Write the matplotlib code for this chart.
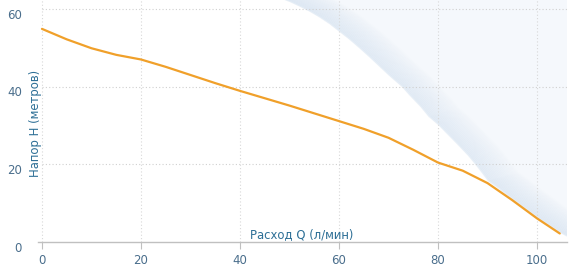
import matplotlib
matplotlib.use("Agg")
import matplotlib.pyplot as plt
import numpy as np

# Pump curve (orange)
flow_q = [0, 5, 10, 15, 20, 25, 30, 35, 40, 45, 50, 55, 60, 65, 70, 75, 80, 85, 90, 95, 100, 104.6]
head_h = [55.0, 52.3, 50.0, 48.3, 47.1, 45.2, 43.1, 41.0, 39.0, 37.1, 35.2, 33.2, 31.2, 29.2, 26.9, 23.8, 20.5, 18.4, 15.2, 10.8, 6.1, 2.2]

# Boundary of the shaded (blue) zone
zone_q = [48.0, 50, 52, 54, 56, 58, 60, 62, 64, 66, 68, 70, 72.7, 74, 76.4, 78, 80, 82, 84, 86, 87.5, 89, 90, 92, 95, 98, 100, 102, 104.6, 107]
zone_h = [63.0, 62.0, 60.8, 59.5, 58.0, 56.3, 54.3, 52.3, 50.1, 47.8, 45.4, 43.0, 40.0, 38.1, 34.9, 32.4, 30.2, 27.6, 25.0, 22.3, 20.0, 17.5, 15.8, 14.0, 11.0, 8.2, 6.3, 4.6, 2.4, 0.8]

x_ticks = [0, 20, 40, 60, 80, 100]
y_ticks = [0, 20, 40, 60]
x_label = "Расход Q (л/мин)"
y_label = "Напор Н (метров)"

W, H = 572, 267
fig = plt.figure(figsize=(W / 100, H / 100), dpi=100)
ax = fig.add_axes([38 / W, 25 / H, (566.7 - 38) / W, 242 / H])
ax.set_xlim(-0.8, 106)
ax.set_ylim(0, 62.45)
top = 62.45

# shaded zone
zq = np.array(zone_q)
zh = np.array(zone_h)
ax.fill_between(zq, zh, 70, color="#f5f8fc", lw=0, zorder=1)
ax.fill_between([zq[-1], 112], [0, 0], [70, 70], color="#f5f8fc", lw=0, zorder=1)
ds = np.linspace(0.3, 6, 20)
for d in ds:
    a = 0.55 * (1 - d / 6.5)
    ax.plot(zq + d, zh + d * 0.35, color="#d9e5f2", lw=1.6, alpha=a, zorder=1,
            solid_capstyle="butt")

ax.plot(flow_q, head_h, color="#f0a02a", lw=1.6, zorder=3, solid_capstyle="round")

# grid
for yv in y_ticks[1:]:
    ax.plot([0, 106], [yv, yv], color="#d0d0d0", lw=0.8, ls=(0, (1, 2)), zorder=2)
for xv in x_ticks:
    ax.plot([xv, xv], [0, top], color="#d8d8d8", lw=0.8, ls=(0, (1, 2)), zorder=2)

for s in ["top", "right", "left"]:
    ax.spines[s].set_visible(False)
ax.spines["bottom"].set_color("#c0c0c0")
ax.spines["bottom"].set_linewidth(1)
ax.spines["bottom"].set_zorder(4)

ax.set_xticks(x_ticks)
ax.set_xticklabels([str(v) for v in x_ticks])
ax.tick_params(axis="x", length=5, color="#c0c0c0", labelcolor="#4a6e8c", labelsize=8.5, pad=4)
ax.set_yticks([])
for yv in y_ticks:
    ax.annotate(str(yv), xy=(0, yv), xycoords=("axes fraction", "data"),
                xytext=(-16, -6), textcoords="offset pixels",
                ha="right", va="center", color="#4a6e8c", fontsize=8.5)

fig.text(36 / W, 1 - 123 / H, y_label, rotation=90, ha="center", va="center",
         color="#2d6f96", fontsize=8.4)
fig.text(302 / W, 1 - 235 / H, x_label, ha="center", va="center",
         color="#2d6f96", fontsize=8.4)

fig.savefig("out.png", dpi=100)
